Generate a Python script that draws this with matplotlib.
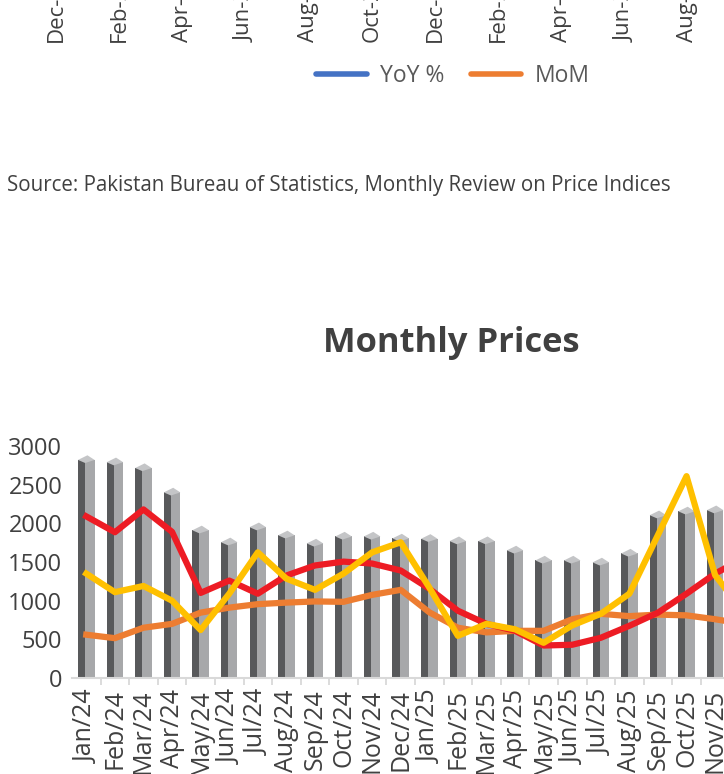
import matplotlib.pyplot as plt
from matplotlib.lines import Line2D

plt.rcParams['font.family'] = ['Open Sans', 'DejaVu Sans']

# data
months = ['Jan/24', 'Feb/24', 'Mar/24', 'Apr/24', 'May/24', 'Jun/24', 'Jul/24', 'Aug/24',
          'Sep/24', 'Oct/24', 'Nov/24', 'Dec/24', 'Jan/25', 'Feb/25', 'Mar/25', 'Apr/25',
          'May/25', 'Jun/25', 'Jul/25', 'Aug/25', 'Sep/25', 'Oct/25', 'Nov/25', 'Dec/25']
bars = [2820, 2790, 2715, 2400, 1910, 1755, 1950, 1845, 1740, 1830, 1830, 1805,
        1800, 1770, 1770, 1650, 1520, 1520, 1495, 1610, 2105, 2155, 2170, 2200]
red = [2090, 1885, 2180, 1890, 1100, 1260, 1090, 1325, 1455, 1505, 1480, 1390,
       1155, 870, 700, 610, 420, 430, 520, 675, 845, 1090, 1350, 1550]
orange = [560, 515, 650, 700, 845, 910, 955, 975, 990, 985, 1075, 1140,
          850, 650, 590, 610, 610, 760, 830, 800, 820, 810, 760, 700]
yellow = [1350, 1110, 1190, 1000, 620, 1090, 1625, 1285, 1140, 1350, 1625, 1755,
          1170, 545, 700, 630, 455, 680, 830, 1090, 1850, 2610, 1330, 850]

# labels of the chart above (cut off at the top of the picture)
prev_ticks = ['Dec-22', 'Feb-23', 'Apr-23', 'Jun-23', 'Aug-23', 'Oct-23',
              'Dec-23', 'Feb-24', 'Apr-24', 'Jun-24', 'Aug-24']
prev_legend = ['YoY %', 'MoM']

W, H = 724, 774
fig = plt.figure(figsize=(W / 100, H / 100), dpi=100)

txt = '#404040'

# leftovers of the chart above
for i, lab in enumerate(prev_ticks):
    fig.text((56 + i * 63.2) / W, 1 - 42 / H, lab, rotation=90, ha='center', va='bottom',
             fontsize=16, color=txt)
handles = [Line2D([], [], color='#4472c4', lw=4, solid_capstyle='round'),
           Line2D([], [], color='#ed7d31', lw=4, solid_capstyle='round')]
fig.legend(handles, prev_legend, loc='center', bbox_to_anchor=(453 / W, 1 - 76 / H),
           ncol=2, frameon=False, fontsize=16.5, handlelength=2.2, handletextpad=0.6,
           columnspacing=1.13, labelcolor='#595959')

fig.text(7 / W, 1 - 185 / H, 'Source: Pakistan Bureau of Statistics, Monthly Review on Price Indices',
         ha='left', va='center', fontsize=14.8, color=txt)

fig.text(451 / W, 1 - 343 / H, 'Monthly Prices', ha='center', va='center',
         fontsize=24.8, fontweight='bold', color=txt)

# main chart, runs past the right edge like the screenshot
ax = fig.add_axes([72 / W, 96 / H, 686 / W, 232 / H])
x = list(range(len(months)))

a, b = 0.29, 0.04
ax.bar([i - (a - b) / 2 - b for i in x], bars, width=a - b, color='#58595b', zorder=2)
ax.bar([i + (a + b) / 2 - b for i in x], bars, width=a + b, color='#a7a8aa', zorder=2)
for i, v in zip(x, bars):
    ax.fill([i - a, i - b, i + a, i + b], [v, v - 40, v, v + 60],
            color='#c4c5c7', zorder=3, lw=0)

ax.plot(x, orange, color='#ed7d31', lw=4.5, solid_joinstyle='round', zorder=4)
ax.plot(x, red, color='#ed1c24', lw=4.5, solid_joinstyle='round', zorder=5)
ax.plot(x, yellow, color='#ffc000', lw=4.5, solid_joinstyle='round', zorder=6)

ax.set_xlim(-0.5, len(months) - 0.5)
ax.set_ylim(0, 3000)
ax.set_yticks(range(0, 3001, 500))
ax.set_xticks(x)
ax.set_xticklabels(months, rotation=90, fontsize=18, color=txt)
ax.set_xticks([i + 0.5 for i in x], minor=True)
ax.tick_params(axis='x', which='major', length=0, pad=8)
ax.tick_params(axis='x', which='minor', length=5, color='#d9d9d9', width=1.3)
ax.tick_params(axis='y', length=0, pad=7, labelsize=17, labelcolor=txt)

for s in ['top', 'right', 'left']:
    ax.spines[s].set_visible(False)
ax.spines['bottom'].set_color('#d9d9d9')
ax.spines['bottom'].set_linewidth(1.5)
ax.set_facecolor('none')

fig.savefig('out.png', dpi=100)
